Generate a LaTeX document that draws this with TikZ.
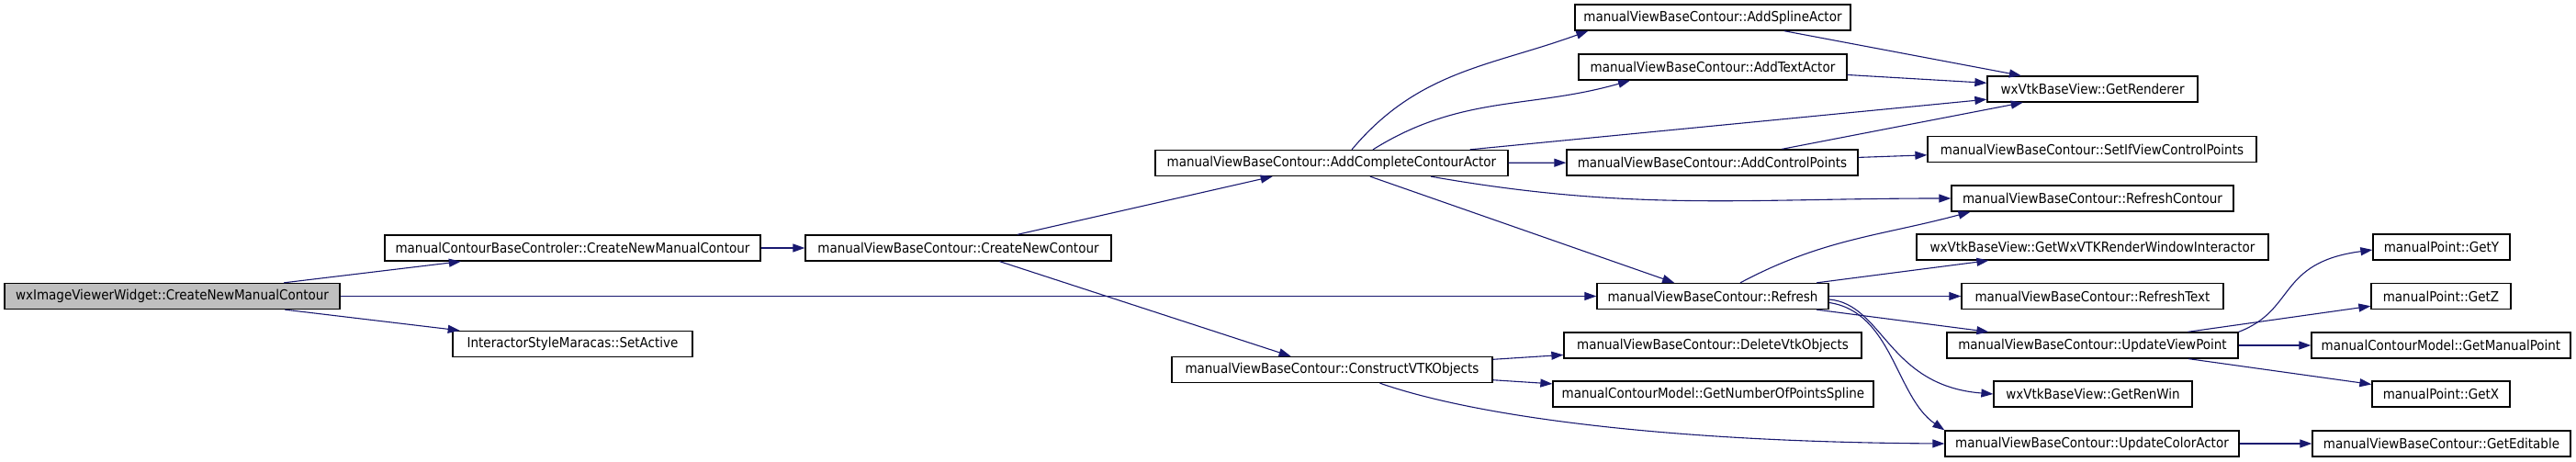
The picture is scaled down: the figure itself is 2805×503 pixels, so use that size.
\documentclass[tikz,border=0pt]{standalone}
\usepackage{fontspec}
\setmainfont{DejaVu Sans Condensed}
\usetikzlibrary{arrows.meta}
\definecolor{callblue}{HTML}{191970}
\definecolor{rootgray}{HTML}{BFBFBF}
\tikzset{
  func/.style={draw=black, line width=1.3pt, inner sep=0pt, minimum height=28pt, font=\fontsize{15}{18}\selectfont},
  calls/.style={draw=callblue, line width=1.1pt, -{Triangle[length=13pt,width=9pt]}}
}
\begin{document}
\begin{tikzpicture}[x=1pt,y=1pt]
\useasboundingbox (0,0) rectangle (2805,503);
\node[func, fill=rootgray, minimum width=365pt] (imgwidget) at (187.5,180.5) {wxImageViewerWidget::CreateNewManualContour};
\node[func, minimum width=409pt] (ctrlnew) at (623.5,233) {manualContourBaseControler::CreateNewManualContour};
\node[func, minimum width=261pt] (setactive) at (623.5,128.5) {InteractorStyleMaracas::SetActive};
\node[func, minimum width=333pt] (newcontour) at (1043.5,233) {manualViewBaseContour::CreateNewContour};
\node[func, minimum width=384pt] (addcomplete) at (1450,325.5) {manualViewBaseContour::AddCompleteContourActor};
\node[func, minimum width=349pt] (construct) at (1450.5,100.5) {manualViewBaseContour::ConstructVTKObjects};
\node[func, minimum width=300pt] (spline) at (1865,484) {manualViewBaseContour::AddSplineActor};
\node[func, minimum width=292pt] (textactor) at (1865,430) {manualViewBaseContour::AddTextActor};
\node[func, minimum width=317pt] (ctrlpts) at (1864.5,326) {manualViewBaseContour::AddControlPoints};
\node[func, minimum width=252pt] (refresh) at (1865,180.5) {manualViewBaseContour::Refresh};
\node[func, minimum width=324pt] (deletevtk) at (1865,127) {manualViewBaseContour::DeleteVtkObjects};
\node[func, minimum width=349pt] (numpts) at (1865.5,74) {manualContourModel::GetNumberOfPointsSpline};
\node[func, minimum width=229pt] (renderer) at (2278.5,406) {wxVtkBaseView::GetRenderer};
\node[func, minimum width=358pt] (setif) at (2278,340.5) {manualViewBaseContour::SetIfViewControlPoints};
\node[func, minimum width=307pt] (refcontour) at (2278.5,287) {manualViewBaseContour::RefreshContour};
\node[func, minimum width=383pt] (interactor) at (2278.5,234) {wxVtkBaseView::GetWxVTKRenderWindowInteractor};
\node[func, minimum width=285pt] (reftext) at (2278.5,180.5) {manualViewBaseContour::RefreshText};
\node[func, minimum width=317pt] (viewpoint) at (2278.5,127) {manualViewBaseContour::UpdateViewPoint};
\node[func, minimum width=216pt] (renwin) at (2279,74) {wxVtkBaseView::GetRenWin};
\node[func, minimum width=320pt] (coloractor) at (2278,20) {manualViewBaseContour::UpdateColorActor};
\node[func, minimum width=149pt] (gety) at (2658.5,234) {manualPoint::GetY};
\node[func, minimum width=152pt] (getz) at (2658,180.5) {manualPoint::GetZ};
\node[func, minimum width=282pt] (manpoint) at (2658,127) {manualContourModel::GetManualPoint};
\node[func, minimum width=150pt] (getx) at (2658,74) {manualPoint::GetX};
\node[func, minimum width=281pt] (editable) at (2658.5,20) {manualViewBaseContour::GetEditable};
\draw[calls] (imgwidget) -- (ctrlnew);
\draw[calls] (imgwidget) -- (refresh);
\draw[calls] (imgwidget) -- (setactive);
\draw[calls] (ctrlnew) -- (newcontour);
\draw[calls] (newcontour) -- (addcomplete);
\draw[calls] (newcontour) -- (construct);
\draw[calls] ([xshift=22pt]addcomplete.north) to[out=50,in=200] ([xshift=15pt]spline.south west);
\draw[calls] ([xshift=45pt]addcomplete.north) to[out=32,in=196] ([xshift=-90pt]textactor.south);
\draw[calls] (addcomplete) -- (renderer);
\draw[calls] (addcomplete) -- (ctrlpts);
\draw[calls] ([xshift=108pt]addcomplete.south) to[out=-10,in=180] (refcontour.west);
\draw[calls] (addcomplete) -- (refresh);
\draw[calls] (spline) -- (renderer);
\draw[calls] (textactor) -- (renderer);
\draw[calls] (ctrlpts) -- (renderer);
\draw[calls] (ctrlpts) -- (setif);
\draw[calls] ([xshift=30pt]refresh.north) to[out=28,in=195] ([xshift=-133pt]refcontour.south);
\draw[calls] (refresh) -- (interactor);
\draw[calls] (refresh) -- (reftext);
\draw[calls] (refresh) -- (viewpoint);
\draw[calls] ([yshift=-3.5pt]refresh.east) .. controls +(59,-5) and +(-115,9) .. (renwin.west);
\draw[calls] ([yshift=-7pt]refresh.east) .. controls +(69,-10) and +(-53,36) .. (coloractor.north west);
\draw[calls] (construct) -- (deletevtk);
\draw[calls] (construct) -- (numpts);
\draw[calls] ([xshift=52pt]construct.south) .. controls +(97,-34) and +(-318,2) .. (coloractor.west);
\draw[calls] (viewpoint.north east) .. controls +(63,24) and +(-104,-14) .. ([yshift=-3pt]gety.west);
\draw[calls] (viewpoint) -- (getz);
\draw[calls] (viewpoint) -- (manpoint);
\draw[calls] (viewpoint) -- (getx);
\draw[calls] (coloractor) -- (editable);
\end{tikzpicture}
\end{document}
